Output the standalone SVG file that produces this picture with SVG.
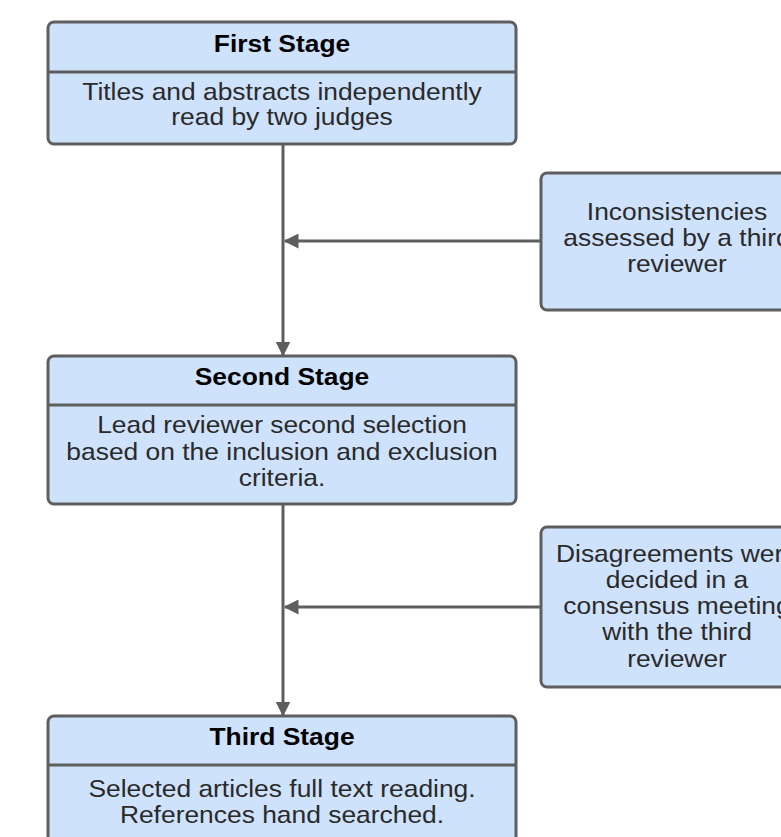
<svg xmlns="http://www.w3.org/2000/svg" width="781" height="837" viewBox="0 0 781 837">
<defs>
<marker id="ah" viewBox="0 0 10 10" refX="9" refY="5" markerWidth="5" markerHeight="5" markerUnits="strokeWidth" orient="auto">
<path d="M0,0 L10,5 L0,10 z" fill="#5e5e5e"/>
</marker>
<style>
.box{fill:#cfe2fc;stroke:#5e5e5e;stroke-width:3}
.div{stroke:#5e5e5e;stroke-width:3}
.t{font-family:"Liberation Sans",Arial,sans-serif;font-size:24px;fill:#2a2a2a;text-anchor:middle}
.h{font-weight:bold;fill:#000}
.c{stroke:#5e5e5e;stroke-width:3;fill:none;marker-end:url(#ah)}
</style>
</defs>
<rect width="781" height="837" fill="#fff"/>
<g id="connectors">
<path class="c" d="M283,144 V355"/>
<path class="c" d="M541,241 H285"/>
<path class="c" d="M283,504 V715"/>
<path class="c" d="M541,607 H285"/>
</g>
<g id="first-stage">
<rect class="box" x="48" y="22" width="468" height="122" rx="6"/>
<line class="div" x1="48" y1="72" x2="516" y2="72"/>
<g transform="translate(282 0) scale(1.1 1)">
<text class="t h" x="0" y="52">First Stage</text>
<text class="t" x="0" y="100">Titles and abstracts independently</text>
<text class="t" x="0" y="125">read by two judges</text>
</g>
</g>
<g id="inconsistencies">
<rect class="box" x="541" y="173" width="270" height="137" rx="6"/>
<g transform="translate(677 0) scale(1.1 1)">
<text class="t" x="0" y="220">Inconsistencies</text>
<text class="t" x="0" y="246">assessed by a third</text>
<text class="t" x="0" y="272">reviewer</text>
</g>
</g>
<g id="second-stage">
<rect class="box" x="48" y="356" width="468" height="148" rx="6"/>
<line class="div" x1="48" y1="405" x2="516" y2="405"/>
<g transform="translate(282 0) scale(1.1 1)">
<text class="t h" x="0" y="385">Second Stage</text>
<text class="t" x="0" y="433">Lead reviewer second selection</text>
<text class="t" x="0" y="460">based on the inclusion and exclusion</text>
<text class="t" x="0" y="486">criteria.</text>
</g>
</g>
<g id="disagreements">
<rect class="box" x="541" y="527" width="270" height="160" rx="6"/>
<g transform="translate(677 0) scale(1.1 1)">
<text class="t" x="0" y="562">Disagreements were</text>
<text class="t" x="0" y="588">decided in a</text>
<text class="t" x="0" y="614">consensus meeting</text>
<text class="t" x="0" y="640">with the third</text>
<text class="t" x="0" y="667">reviewer</text>
</g>
</g>
<g id="third-stage">
<rect class="box" x="48" y="716" width="468" height="150" rx="6"/>
<line class="div" x1="48" y1="765" x2="516" y2="765"/>
<g transform="translate(282 0) scale(1.1 1)">
<text class="t h" x="0" y="745">Third Stage</text>
<text class="t" x="0" y="797">Selected articles full text reading.</text>
<text class="t" x="0" y="823">References hand searched.</text>
</g>
</g>
</svg>
